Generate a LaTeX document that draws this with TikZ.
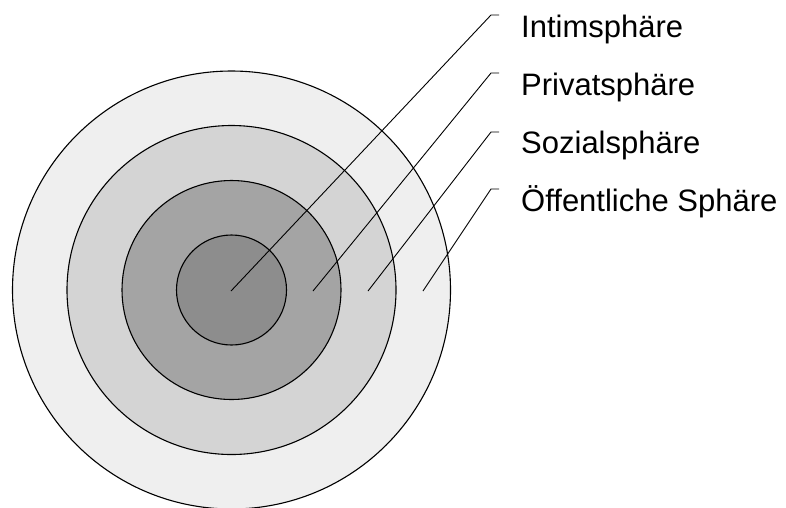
\documentclass[tikz,border=0pt]{standalone}
\usepackage{fontspec}
\setmainfont{Liberation Sans}
\begin{document}
\begin{tikzpicture}[x=1pt,y=-1pt,
  ring/.style={circle, draw=black, line width=1.1pt, inner sep=0pt},
  leader/.style={draw=black, line width=0.9pt},
  label/.style={anchor=base west, inner sep=0pt, font=\fontsize{31}{36}\selectfont}]
  \useasboundingbox (0,0) rectangle (786,507);
  % concentric spheres, outermost first
  \node[ring, fill={rgb,255:red,239;green,239;blue,239}, minimum size=438pt] (oeff) at (231.5,290) {};
  \node[ring, fill={rgb,255:red,212;green,212;blue,212}, minimum size=329pt] (sozi) at (231.5,290) {};
  \node[ring, fill={rgb,255:red,164;green,164;blue,164}, minimum size=219pt] (priv) at (231.5,290) {};
  \node[ring, fill={rgb,255:red,141;green,141;blue,141}, minimum size=110pt] (inti) at (231.5,290) {};
  % labels
  \node[label] (l1) at (521,37) {Intimsphäre};
  \node[label] (l2) at (521,95) {Privatsphäre};
  \node[label] (l3) at (521,153) {Sozialsphäre};
  \node[label] (l4) at (521,211) {Öffentliche Sphäre};
  % leader anchors
  \coordinate (s1) at (231,291);
  \coordinate (s2) at (313,291);
  \coordinate (s3) at (368,291);
  \coordinate (s4) at (423,291);
  \coordinate (k1) at (491,15);
  \coordinate (k2) at (491,73);
  \coordinate (k3) at (491,132);
  \coordinate (k4) at (491,189);
  \coordinate (e1) at (499,15);
  \coordinate (e2) at (499,73);
  \coordinate (e3) at (499,132);
  \coordinate (e4) at (499,189);
  \draw[leader] (s1) -- (k1) -- (e1);
  \draw[leader] (s2) -- (k2) -- (e2);
  \draw[leader] (s3) -- (k3) -- (e3);
  \draw[leader] (s4) -- (k4) -- (e4);
\end{tikzpicture}
\end{document}
